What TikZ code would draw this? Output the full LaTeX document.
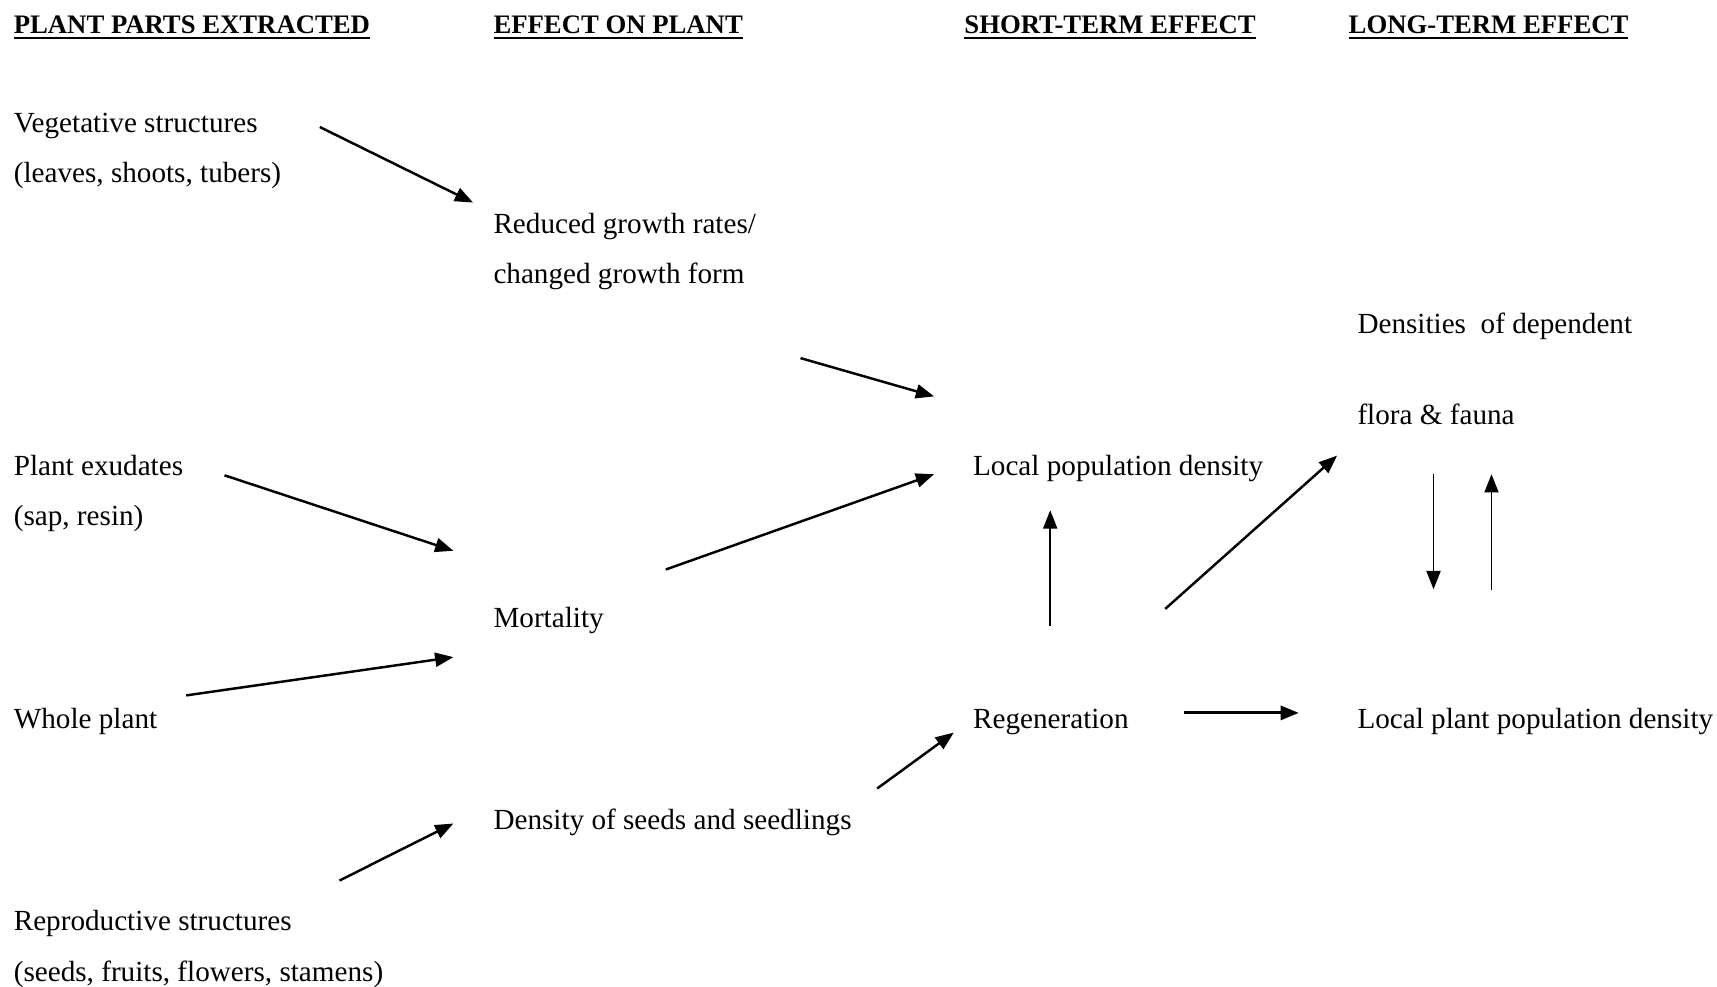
\documentclass[tikz,border=0pt]{standalone}
\usepackage{fontspec}
\setmainfont{Liberation Serif}
\usetikzlibrary{arrows.meta, positioning}

\tikzset{
  txt/.style={anchor=base west, inner sep=0pt, align=left, font=\fontsize{8.3}{14.34}\selectfont},
  head/.style={anchor=base west, inner sep=0pt, font=\fontsize{7.6}{9}\selectfont\bfseries},
  arr/.style={-{Triangle[length=5.2pt, width=4pt]}, line width=0.7pt},
  thinarr/.style={arr, line width=0.5pt}
}

\begin{document}
\begin{tikzpicture}
  \useasboundingbox (0,0) rectangle (17.17,-9.87);

  % Column headings
  \node[head] (hparts) at (0.131,-0.33) {\underline{PLANT PARTS EXTRACTED}};
  \node[head] (heffect) at (4.928,-0.33) {\underline{EFFECT ON PLANT}};
  \node[head] (hshort) at (9.637,-0.33) {\underline{SHORT-TERM EFFECT}};
  \node[head] (hlong) at (13.48,-0.33) {\underline{LONG-TERM EFFECT}};

  % Plant parts (two-line nodes sit on their last line)
  \node[txt] (veg) at (0.131,-1.828) {Vegetative structures\\(leaves, shoots, tubers)};
  \node[txt] (exud) at (0.131,-5.255) {Plant exudates\\(sap, resin)};
  \node[txt] (whole) at (0.131,-7.281) {Whole plant};
  \node[txt] (repro) at (0.131,-9.811) {Reproductive structures\\(seeds, fruits, flowers, stamens)};

  % Effect on plant
  \node[txt] (reduced) at (4.928,-2.835) {Reduced growth rates/\\changed growth form};
  \node[txt] (mort) at (4.928,-6.273) {Mortality};
  \node[txt] (seeds) at (4.928,-8.299) {Density of seeds and seedlings};

  % Short-term effect
  \node[txt] (localpop) at (9.724,-4.751) {Local population density};
  \node[txt] (regen) at (9.724,-7.281) {Regeneration};

  % Long-term effect
  \node[txt] (depend) at (13.568,-3.339) {Densities\ \ of dependent};
  \node[txt] (flora) at (13.568,-4.247) {flora \& fauna};
  \node[txt] (localplant) at (13.568,-7.281) {Local plant population density};

  % Arrow ends
  \coordinate (veg-out) at (3.198,-1.27);
  \coordinate (reduced-in) at (4.731,-2.026);
  \coordinate (reduced-out) at (8.005,-3.581);
  \coordinate (localpop-in1) at (9.341,-3.964);
  \coordinate (exud-out) at (2.245,-4.753);
  \coordinate (mort-in1) at (4.534,-5.508);
  \coordinate (mort-out) at (6.658,-5.695);
  \coordinate (localpop-in2) at (9.341,-4.742);
  \coordinate (whole-out) at (1.862,-6.954);
  \coordinate (mort-in2) at (4.534,-6.571);
  \coordinate (repro-out) at (3.395,-8.805);
  \coordinate (seeds-in) at (4.534,-8.235);
  \coordinate (seeds-out) at (8.772,-7.885);
  \coordinate (regen-in) at (9.538,-7.326);
  \coordinate (regen-up) at (10.502,-6.264);
  \coordinate (localpop-in3) at (10.502,-5.103);
  \coordinate (regen-diag) at (11.652,-6.089);
  \coordinate (flora-in) at (13.371,-4.556);
  \coordinate (flora-down) at (14.335,-4.742);
  \coordinate (localplant-in1) at (14.335,-5.892);
  \coordinate (localplant-up) at (14.915,-5.903);
  \coordinate (flora-in2) at (14.915,-4.742);
  \coordinate (regen-out) at (11.838,-7.129);
  \coordinate (localplant-in2) at (12.988,-7.129);

  % Arrows
  \draw[arr] (veg-out) -- (reduced-in);
  \draw[arr] (reduced-out) -- (localpop-in1);
  \draw[arr] (exud-out) -- (mort-in1);
  \draw[arr] (mort-out) -- (localpop-in2);
  \draw[arr] (whole-out) -- (mort-in2);
  \draw[arr] (repro-out) -- (seeds-in);
  \draw[arr] (seeds-out) -- (regen-in);
  \draw[thinarr] (regen-up) -- (localpop-in3);
  \draw[arr] (regen-diag) -- (flora-in);
  \draw[thinarr] (flora-down) -- (localplant-in1);
  \draw[thinarr] (localplant-up) -- (flora-in2);
  \draw[arr, line width=0.85pt] (regen-out) -- (localplant-in2);
\end{tikzpicture}
\end{document}
